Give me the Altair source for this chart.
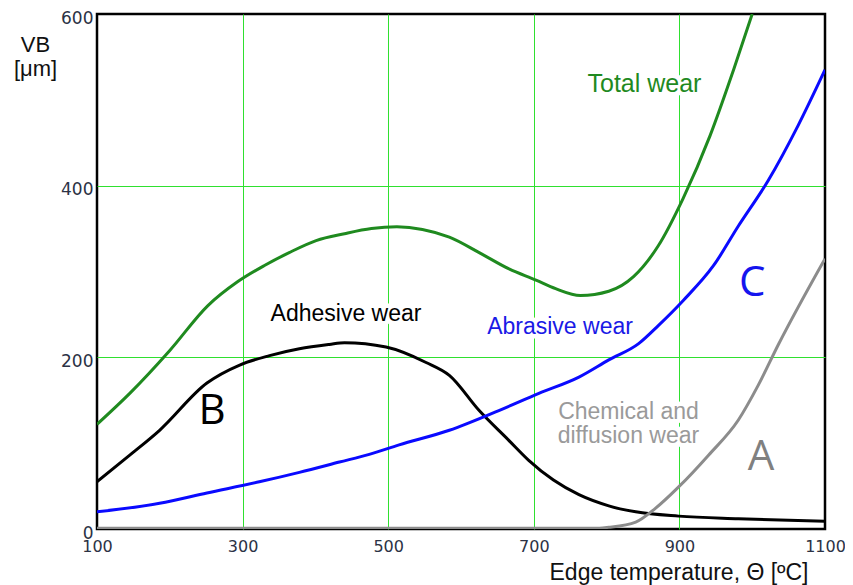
import altair as alt
import pandas as pd

# ---- data ----
temp_total = [100, 145, 200, 252, 293, 330, 364, 401, 440, 477, 512, 547, 584, 625, 666, 703, 730, 764, 803, 837, 871, 905, 942, 974, 1000]
vb_total = [122, 158, 208, 260, 288, 307, 322, 336, 344, 350, 352, 349, 340, 322, 303, 290, 280, 272, 277, 294, 330, 385, 458, 534, 600]

temp_adh = [100, 145, 186, 251, 296, 337, 378, 419, 440, 497, 552, 584, 625, 666, 693, 727, 762, 803, 840, 899, 981, 1100]
vb_adh = [55, 86, 115, 170, 191, 202, 210, 215, 217, 212, 194, 179, 138, 103, 80, 57, 40, 27, 20, 15, 12, 9]

temp_abr = [100, 186, 251, 323, 378, 433, 474, 515, 584, 652, 707, 762, 803, 844, 871, 905, 947, 981, 1022, 1063, 1100]
vb_abr = [20, 30, 42, 55, 66, 78, 87, 98, 115, 138, 158, 177, 197, 216, 237, 266, 307, 353, 406, 470, 535]

temp_chem = [100, 790, 803, 840, 867, 899, 940, 981, 1008, 1036, 1100]
vb_chem = [1, 1, 2, 8, 24, 49, 86, 127, 167, 215, 315]

series_names = ["Total wear", "Adhesive wear", "Abrasive wear", "Chemical and diffusion wear"]
series_colors = ["#1f8a1f", "#000000", "#0a0aff", "#8c8c8c"]

x_ticks = [100, 300, 500, 700, 900, 1100]
y_ticks = [0, 200, 400, 600]

label_text = ["Total wear", "Adhesive wear", "Abrasive wear", "Chemical and", "diffusion wear"]
label_temp = [852, 442, 736, 830, 830]
label_vb = [519, 251, 235, 136, 108]
label_size = [25, 23, 23, 23, 23]
label_color = ["#1f8a1f", "#000000", "#1a1ae6", "#9a9a9a", "#9a9a9a"]

letter_text = ["B", "C", "A"]
letter_temp = [258, 1000, 1012]
letter_vb = [138, 287, 84]
letter_color = ["#000000", "#1515ee", "#808080"]

# ---- tables ----
rows = []
for name, xs, ys in zip(series_names,
                        [temp_total, temp_adh, temp_abr, temp_chem],
                        [vb_total, vb_adh, vb_abr, vb_chem]):
    for t, v in zip(xs, ys):
        rows.append({"series": name, "temp": t, "vb": v})
df = pd.DataFrame(rows)

labels = pd.DataFrame({"text": label_text, "temp": label_temp, "vb": label_vb,
                       "color": label_color, "size": label_size})
letters = pd.DataFrame({"text": letter_text, "temp": letter_temp, "vb": letter_vb, "color": letter_color})

grid_hide_x = {"condition": {"test": "datum.value === 100 || datum.value === 1100", "value": 0}, "value": 1}
grid_hide_y = {"condition": {"test": "datum.value === 0 || datum.value === 600", "value": 0}, "value": 1}

x_enc = alt.X(
    "temp:Q",
    scale=alt.Scale(domain=[100, 1100], nice=False, zero=False),
    axis=alt.Axis(
        values=x_ticks, format="d", title="Edge temperature, Θ [ºC]", grid=True, gridColor="#2fe02f",
        gridWidth=1, gridOpacity=grid_hide_x, domain=False, ticks=False,
        labelFont="DejaVu Sans", labelFontSize=16, labelColor="#2b3245", labelPadding=9,
        labelFlush=False, labelOverlap=False,
        titleFont="Liberation Sans", titleFontSize=23, titleFontWeight="normal", titleColor="#111111",
        titleX=711, titleY=50, titleAlign="right", titleBaseline="alphabetic", titleAnchor="end",
    ),
)
y_enc = alt.Y(
    "vb:Q",
    scale=alt.Scale(domain=[0, 600], nice=False),
    axis=alt.Axis(
        values=y_ticks, format="d", title=["VB", "[μm]"], grid=True, gridColor="#2fe02f",
        gridWidth=1, gridOpacity=grid_hide_y, domain=False, ticks=False,
        labelFont="DejaVu Sans", labelFontSize=17, labelColor="#2b3245", labelPadding=4,
        labelFlush=False, labelOffset=4, labelOverlap=False,
        titleFont="Liberation Sans", titleFontSize=22, titleFontWeight="normal", titleColor="#111111",
        titleAngle=0, titleX=-62, titleY=20, titleAlign="center", titleBaseline="top",
        titleLineHeight=24,
    ),
)

halo = alt.Chart(labels).mark_text(
    font="Liberation Sans", align="center", baseline="middle",
    fill="white", stroke="white", strokeWidth=9, strokeJoin="round",
).encode(x=alt.X("temp:Q"), y=alt.Y("vb:Q"), text="text:N",
         size=alt.Size("size:Q", scale=None))

lines = alt.Chart(df).mark_line(strokeWidth=3, interpolate="monotone", clip=True).encode(
    x=x_enc,
    y=y_enc,
    color=alt.Color("series:N", scale=alt.Scale(domain=series_names, range=series_colors), legend=None),
    detail="series:N",
)

text = alt.Chart(labels).mark_text(
    font="Liberation Sans", align="center", baseline="middle",
).encode(x="temp:Q", y="vb:Q", text="text:N", color=alt.Color("color:N", scale=None),
         size=alt.Size("size:Q", scale=None))

letter_marks = alt.Chart(letters).mark_text(
    font="Open Sans", fontSize=42, align="center", baseline="middle",
).encode(x="temp:Q", y="vb:Q", text="text:N", color=alt.Color("color:N", scale=None))

chart = alt.layer(halo, lines, text, letter_marks).properties(
    width=728, height=515,
    autosize=alt.AutoSizeParams(type="none"),
    padding={"left": 89, "top": 6, "right": 20, "bottom": 56},
    background="white",
).configure_view(stroke="#000000", strokeWidth=2.5)

chart.save("out.html", embed_options={"renderer": "svg", "actions": False})
